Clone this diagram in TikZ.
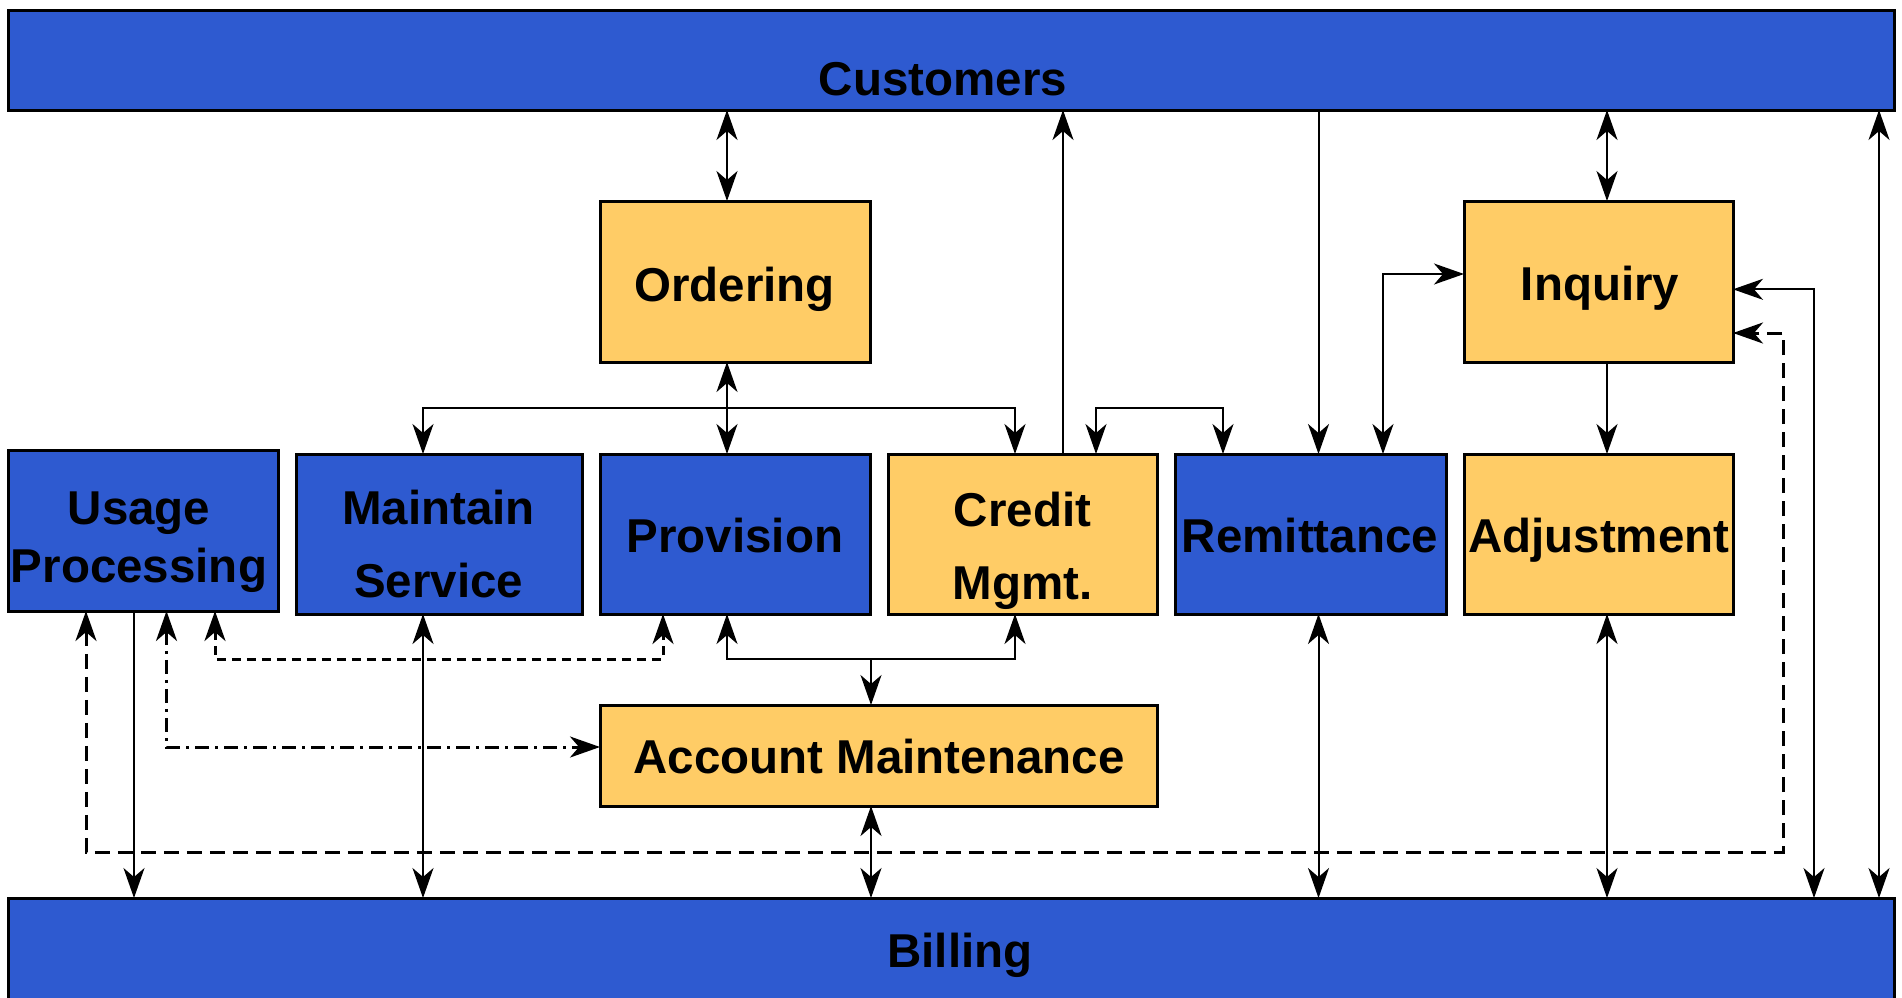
\documentclass[tikz,border=0pt]{standalone}
\usepackage{fontspec}
\setmainfont{Liberation Sans}
\usetikzlibrary{arrows.meta}
\definecolor{procblue}{HTML}{2E5AD0}
\definecolor{procgold}{HTML}{FFCC66}
\tikzset{
  >={Stealth[length=30pt,width=21pt,inset=9pt]},
  blk/.style={draw=black, line width=3pt, rectangle, inner sep=0pt, outer sep=0pt, anchor=north west},
  bluebox/.style={blk, fill=procblue},
  goldbox/.style={blk, fill=procgold},
  txt/.style={font=\bfseries\fontsize{47.5}{57}\selectfont, inner sep=0pt, anchor=base},
  link/.style={line width=2pt},
  longdash/.style={line width=3pt, dash pattern=on 15pt off 8pt},
  shortdash/.style={line width=3pt, dash pattern=on 9pt off 6pt},
  dotdash/.style={line width=3pt, dash pattern=on 14pt off 6pt on 3pt off 6pt},
}
\begin{document}
\begin{tikzpicture}[x=1pt, y=-1pt]
\path[use as bounding box, clip] (0,0) rectangle (1902,997);
\fill[white] (0,0) rectangle (1902,997);

% boxes
\node[bluebox, minimum width=1886pt, minimum height=100pt] (cust) at (8.5,10) {};
\node[bluebox, minimum width=1886pt, minimum height=140pt] (bill) at (8.5,898) {};
\node[goldbox, minimum width=270pt, minimum height=161pt] (ord)  at (600,201) {};
\node[goldbox, minimum width=269pt, minimum height=161pt] (inq)  at (1464,201) {};
\node[bluebox, minimum width=270pt, minimum height=161pt] (use)  at (8.5,450) {};
\node[bluebox, minimum width=286pt, minimum height=160pt] (mnt)  at (296,454) {};
\node[bluebox, minimum width=270pt, minimum height=160pt] (prov) at (600,454) {};
\node[goldbox, minimum width=269pt, minimum height=160pt] (cred) at (888,454) {};
\node[bluebox, minimum width=271pt, minimum height=160pt] (rem)  at (1175,454) {};
\node[goldbox, minimum width=269pt, minimum height=160pt] (adj)  at (1464,454) {};
\node[goldbox, minimum width=557pt, minimum height=101pt] (acct) at (600,705) {};

% labels
\node[txt] (custT) at (943,95) {Customers};
\node[txt] (billT) at (960,967) {Billing};
\node[txt] (ordT) at (734.5,301) {Ordering};
\node[txt] (inqT) at (1600,300.5) {Inquiry};
\node[txt] (useT1) at (139,524) {Usage};
\node[txt] (useT2) at (139,582) {Processing};
\node[txt] (mntT1) at (438.6,524.3) {Maintain};
\node[txt] (mntT2) at (438.6,597.5) {Service};
\node[txt] (provT) at (735,552.5) {Provision};
\node[txt] (credT1) at (1022.5,526) {Credit};
\node[txt] (credT2) at (1022.5,599) {Mgmt.};
\node[txt] (remT) at (1310,552) {Remittance};
\node[txt] (adjT) at (1598.7,552) {Adjustment};
\node[txt] (acctT) at (879,773.3) {Account Maintenance};

% routing columns
\coordinate (vOrd) at (727,0);
\coordinate (vCred) at (1063,0);
\coordinate (vRem) at (1318.5,0);
\coordinate (vInq) at (1607,0);
\coordinate (vRB) at (1814,0);
\coordinate (vRC) at (1879,0);
\coordinate (vLoop) at (1783,0);
\coordinate (vRI) at (1383,0);
\coordinate (vMnt) at (423,0);
\coordinate (vCrB) at (1015,0);
\coordinate (vCR1) at (1096,0);
\coordinate (vCR2) at (1223,0);
\coordinate (vUB) at (134,0);
\coordinate (vAcc) at (871,0);
\coordinate (vUd) at (215,0);
\coordinate (vPd) at (663,0);
\coordinate (vUdd) at (166.5,0);
\coordinate (vUl) at (86,0);
% routing rows
\coordinate (hTop) at (0,407.6);
\coordinate (hBot) at (0,659);
\coordinate (hDD) at (0,747);
\coordinate (hLoop) at (0,852);
\coordinate (hRI) at (0,274);
\coordinate (hRB) at (0,289.3);
\coordinate (hLR) at (0,333);

% solid connectors
\draw[link,<->] (cust.south -| vOrd) -- (ord.north -| vOrd);
\draw[link,<->] (ord.south -| vOrd) -- (prov.north -| vOrd);
\draw[link,<->] (mnt.north -| vMnt) |- (vOrd |- hTop) -| (cred.north -| vCrB);
\draw[link,->] (cred.north -| vCred) -- (cust.south -| vCred);
\draw[link,<->] (cred.north -| vCR1) |- (vCR2 |- hTop) -- (rem.north -| vCR2);
\draw[link,->] (cust.south -| vRem) -- (rem.north -| vRem);
\draw[link,<->] (rem.north -| vRI) |- (inq.west |- hRI);
\draw[link,<->] (cust.south -| vInq) -- (inq.north -| vInq);
\draw[link,->] (inq.south -| vInq) -- (adj.north -| vInq);
\draw[link,<->] (bill.north -| vRB) |- (inq.east |- hRB);
\draw[link,<->] (bill.north -| vRC) -- (cust.south -| vRC);
\draw[link,->] (use.south -| vUB) -- (bill.north -| vUB);
\draw[link,<->] (mnt.south -| vMnt) -- (bill.north -| vMnt);
\draw[link,<->] (acct.south -| vAcc) -- (bill.north -| vAcc);
\draw[link,<->] (rem.south -| vRem) -- (bill.north -| vRem);
\draw[link,<->] (adj.south -| vInq) -- (bill.north -| vInq);
\draw[link,<->] (prov.south -| vOrd) |- (vCrB |- hBot) -- (cred.south -| vCrB);
\draw[link,->] (vAcc |- hBot) -- (acct.north -| vAcc);

% dashed connectors
\draw[longdash,<->] (use.south -| vUl) |- (vLoop |- hLoop) |- (inq.east |- hLR);
\draw[shortdash,<->] (use.south -| vUd) |- (vPd |- hBot) -- (prov.south -| vPd);
\draw[dotdash,<->] (use.south -| vUdd) |- (acct.west |- hDD);
\end{tikzpicture}
\end{document}
